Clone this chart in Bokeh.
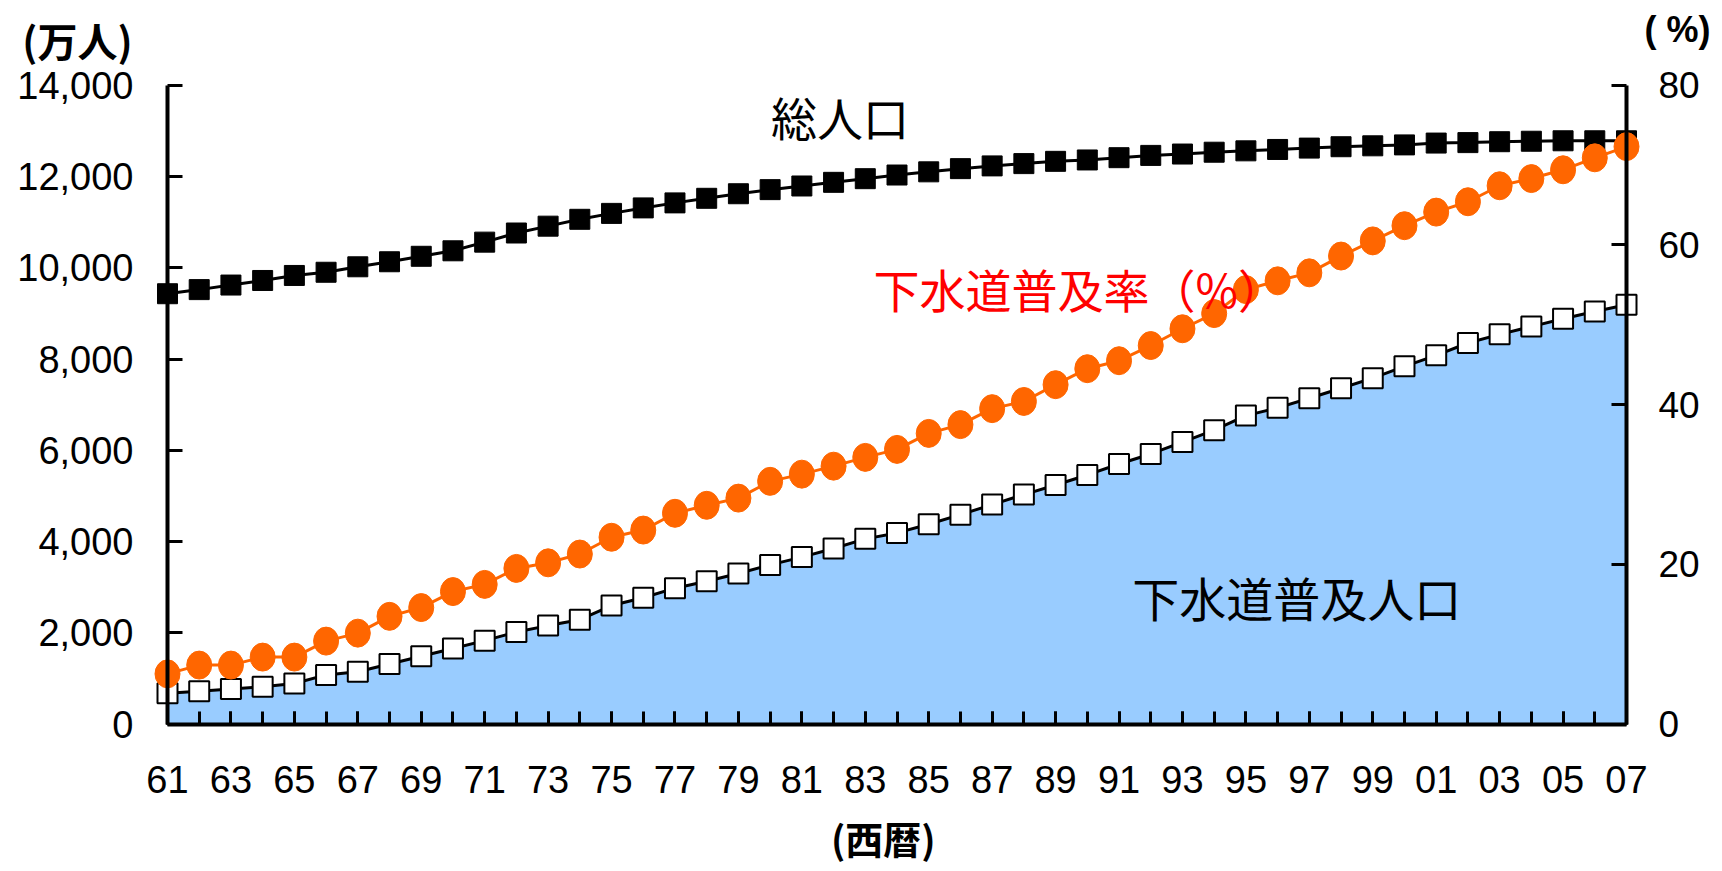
from bokeh.plotting import figure
from bokeh.models import Range1d, LinearAxis, FixedTicker, Label, NumeralTickFormatter
from bokeh.embed import file_html
from bokeh.resources import INLINE

years = list(range(1961, 2008))
total_pop = [9430, 9520, 9620, 9720, 9830, 9900, 10020, 10130, 10250, 10370,
             10560, 10760, 10910, 11060, 11190, 11310, 11420, 11520, 11620, 11710,
             11790, 11870, 11950, 12030, 12100, 12170, 12230, 12280, 12330, 12360,
             12410, 12460, 12490, 12530, 12560, 12590, 12620, 12650, 12670, 12690,
             12730, 12740, 12760, 12770, 12780, 12780, 12780]
sewer_pop = [680, 720, 770, 820, 890, 1080, 1150, 1320, 1490, 1660,
             1830, 2020, 2160, 2290, 2600, 2770, 2980, 3130, 3300, 3490,
             3660, 3850, 4060, 4190, 4380, 4590, 4810, 5030, 5240, 5460,
             5700, 5920, 6180, 6440, 6760, 6930, 7140, 7360, 7580, 7840,
             8080, 8350, 8540, 8710, 8880, 9040, 9190]
sewer_rate = [6.3, 7.4, 7.4, 8.4, 8.4, 10.4, 11.4, 13.5, 14.6, 16.6,
              17.5, 19.5, 20.2, 21.3, 23.4, 24.3, 26.4, 27.4, 28.3, 30.4,
              31.3, 32.3, 33.4, 34.4, 36.4, 37.5, 39.5, 40.4, 42.5, 44.5,
              45.5, 47.4, 49.5, 51.4, 54.4, 55.5, 56.5, 58.6, 60.5, 62.4,
              64.1, 65.4, 67.4, 68.3, 69.4, 70.9, 72.3]
x_tick_years = list(range(1961, 2008, 2))
x_tick_labels = ["61", "63", "65", "67", "69", "71", "73", "75", "77", "79", "81", "83",
                 "85", "87", "89", "91", "93", "95", "97", "99", "01", "03", "05", "07"]
left_ticks = [0, 2000, 4000, 6000, 8000, 10000, 12000, 14000]
right_ticks = [0, 20, 40, 60, 80]

LAT = "Liberation Sans"
CJK = "Noto Sans CJK JP"

# canvas-wide frame; data area: 1961..2007 -> px 167..1626, 0..14000 -> px 724..85
PX_YR = (1626 - 167) / 46.0
PX_V = (723.7 - 84.6) / 14000.0
PX_P = (723.7 - 84.6) / 80.0
x0 = 1961 - 167 / PX_YR
x1 = 2007 + (1722 - 1626) / PX_YR
y0 = -(871 - 723.7) / PX_V
y1 = 723.7 / PX_V
p0 = -(871 - 723.7) / PX_P
p1 = 723.7 / PX_P

p = figure(width=1722, height=871,
           x_range=Range1d(x0, x1), y_range=Range1d(y0, y1),
           output_backend="svg", toolbar_location=None,
           x_axis_location=None, y_axis_location=None, title_location=None,
           min_border=0, min_border_left=0, min_border_right=0,
           min_border_top=0, min_border_bottom=0)
p.outline_line_color = None
p.xgrid.visible = False
p.ygrid.visible = False
p.background_fill_color = "white"
p.border_fill_color = "white"
p.extra_y_ranges = {"pct": Range1d(p0, p1)}

# x axis
xaxis = LinearAxis(ticker=FixedTicker(ticks=x_tick_years, minor_ticks=years),
                   bounds=(1961, 2007), fixed_location=0,
                   major_label_overrides={y: l for y, l in zip(x_tick_years, x_tick_labels)})
xaxis.axis_line_width = 4
xaxis.major_tick_in = 13
xaxis.major_tick_out = 0
xaxis.minor_tick_in = 13
xaxis.minor_tick_out = 0
xaxis.major_tick_line_width = 3
xaxis.minor_tick_line_width = 3
xaxis.major_label_standoff = 42
xaxis.major_label_text_font = LAT
xaxis.major_label_text_font_size = "38px"
xaxis.major_label_text_color = "black"
p.add_layout(xaxis, "below")

# left axis
yl = LinearAxis(ticker=FixedTicker(ticks=left_ticks), fixed_location=1961, bounds=(0, 14000),
                formatter=NumeralTickFormatter(format="0,0"))
yl.axis_line_width = 4
yl.major_tick_in = 15
yl.major_tick_out = 0
yl.minor_tick_line_color = None
yl.major_tick_line_width = 3
yl.major_label_standoff = 34
yl.major_label_text_font = LAT
yl.major_label_text_font_size = "38px"
yl.major_label_text_color = "black"
p.add_layout(yl, "left")

# right axis
yr = LinearAxis(y_range_name="pct", ticker=FixedTicker(ticks=right_ticks), fixed_location=2007,
                bounds=(0, 80))
yr.axis_line_width = 4
yr.major_tick_in = 15
yr.major_tick_out = 0
yr.minor_tick_line_color = None
yr.major_tick_line_width = 3
yr.major_label_standoff = 32
yr.major_label_text_font = LAT
yr.major_label_text_font_size = "37px"
yr.major_label_text_color = "black"
p.add_layout(yr, "right")

# data
p.varea(x=years, y1=0, y2=sewer_pop, fill_color="#99CCFF")
p.line(years, sewer_pop, line_color="black", line_width=3)
p.scatter(years, sewer_pop, marker="square", size=20, fill_color="white",
          line_color="black", line_width=2)
p.line(years, total_pop, line_color="black", line_width=3)
p.scatter(years, total_pop, marker="square", size=20, fill_color="black",
          line_color="black", line_width=1)
p.line(years, sewer_rate, y_range_name="pct", line_color="#FF6600", line_width=3)
p.ellipse(x=years, y=sewer_rate, y_range_name="pct", width=25, height=28,
          width_units="screen", height_units="screen",
          fill_color="#FF6600", line_color="#FF6600")

# texts
p.add_layout(Label(x=1982.2, y=13334, text="総人口", text_font=CJK, text_font_size="46px",
                   text_color="black", text_align="center", text_baseline="middle"))
p.add_layout(Label(x=1983.26, y=9545, text="下水道普及率（%）", text_font=CJK, text_font_size="46px",
                   text_color="#FF0000", text_align="left", text_baseline="middle"))
p.add_layout(Label(x=1996.6, y=2797, text="下水道普及人口", text_font=CJK, text_font_size="47px",
                   text_color="black", text_align="center", text_baseline="middle"))
p.add_layout(Label(x=1958.16, y=14990, text="(万人)", text_font=CJK, text_font_size="40px",
                   text_font_style="bold", text_color="black", text_align="center", text_baseline="middle"))
p.add_layout(Label(x=2008.61, y=15218, text="( %)", text_font=LAT, text_font_size="36px",
                   text_font_style="bold", text_color="black", text_align="center", text_baseline="middle"))
p.add_layout(Label(x=1983.57, y=-2480, text="(西暦)", text_font=CJK, text_font_size="38px",
                   text_font_style="bold", text_color="black", text_align="center", text_baseline="middle"))

open("out.html", "w").write(file_html(p, INLINE))
